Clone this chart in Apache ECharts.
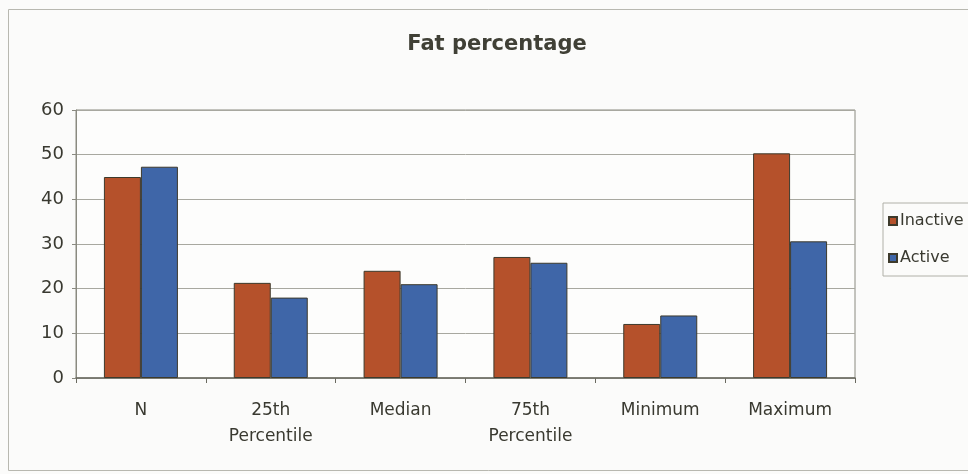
<!DOCTYPE html>
<html>
<head>
<meta charset="utf-8">
<script src="https://cdn.jsdelivr.net/npm/echarts@6/dist/echarts.min.js"></script>
<style>
  html, body { margin: 0; padding: 0; background: #fbfbfa; }
  #chart { width: 968px; height: 474px; }
</style>
</head>
<body>
<div id="chart"></div>
<script>
// Fat percentage summary statistics by activity group
const categories = ['N', '25th\nPercentile', 'Median', '75th\nPercentile', 'Minimum', 'Maximum'];
const inactiveValues = [45, 21.3, 24, 27.1, 12.1, 50.3];
const activeValues = [47.3, 18, 21, 25.8, 14, 30.6];
const yTicks = { min: 0, max: 60, interval: 10 };

const textFont = "'DejaVu Sans', 'Liberation Sans', Arial, sans-serif";
const textColor = '#393930';

const chart = echarts.init(document.getElementById('chart'));
chart.setOption({
  backgroundColor: '#fbfbfa',
  animation: false,
  title: {
    text: 'Fat percentage',
    left: 492,
    textAlign: 'center',
    top: 29,
    textStyle: {
      fontFamily: textFont,
      fontWeight: 'bold',
      fontSize: 21,
      color: '#404036'
    }
  },
  graphic: [{
    type: 'rect',
    shape: { x: 8.5, y: 9.5, width: 970, height: 461 },
    style: { fill: 'none', stroke: '#b8b8b0', lineWidth: 1 },
    silent: true
  }],
  legend: {
    orient: 'vertical',
    left: 883,
    top: 203,
    padding: [10, 20, 10, 5],
    itemGap: 21,
    itemWidth: 8,
    itemHeight: 8,
    borderColor: '#b0b0a8',
    borderWidth: 1,
    icon: 'rect',
    textStyle: {
      fontFamily: textFont,
      fontSize: 16,
      color: textColor,
      padding: [0, 0, 0, -2]
    },
    data: ['Inactive', 'Active']
  },
  grid: {
    left: 76,
    right: 113,
    top: 110,
    bottom: 96,
    show: true,
    borderColor: '#8a8a80',
    borderWidth: 1,
    backgroundColor: '#fdfdfc'
  },
  xAxis: {
    type: 'category',
    data: categories,
    axisLine: { lineStyle: { color: '#6a6a60', width: 1.5 } },
    axisTick: { show: true, length: 5, lineStyle: { color: '#6a6a60' } },
    axisLabel: {
      fontFamily: textFont,
      fontSize: 17,
      color: textColor,
      margin: 20,
      lineHeight: 26
    }
  },
  yAxis: {
    type: 'value',
    min: yTicks.min,
    max: yTicks.max,
    interval: yTicks.interval,
    axisLine: { show: true, lineStyle: { color: '#8a8a80' } },
    axisTick: { show: true, length: 4, lineStyle: { color: '#8a8a80' } },
    axisLabel: {
      fontFamily: textFont,
      fontSize: 18,
      color: textColor,
      margin: 12
    },
    splitLine: { lineStyle: { color: '#a8a8a0', width: 1 } }
  },
  series: [
    {
      name: 'Inactive',
      type: 'bar',
      data: inactiveValues,
      barWidth: 37,
      barGap: '0%',
      itemStyle: { color: '#b5512b', borderColor: '#3d3a2c', borderWidth: 1 }
    },
    {
      name: 'Active',
      type: 'bar',
      data: activeValues,
      barWidth: 37,
      itemStyle: { color: '#3f66a8', borderColor: '#3d3a2c', borderWidth: 1 }
    }
  ]
});
</script>
</body>
</html>
